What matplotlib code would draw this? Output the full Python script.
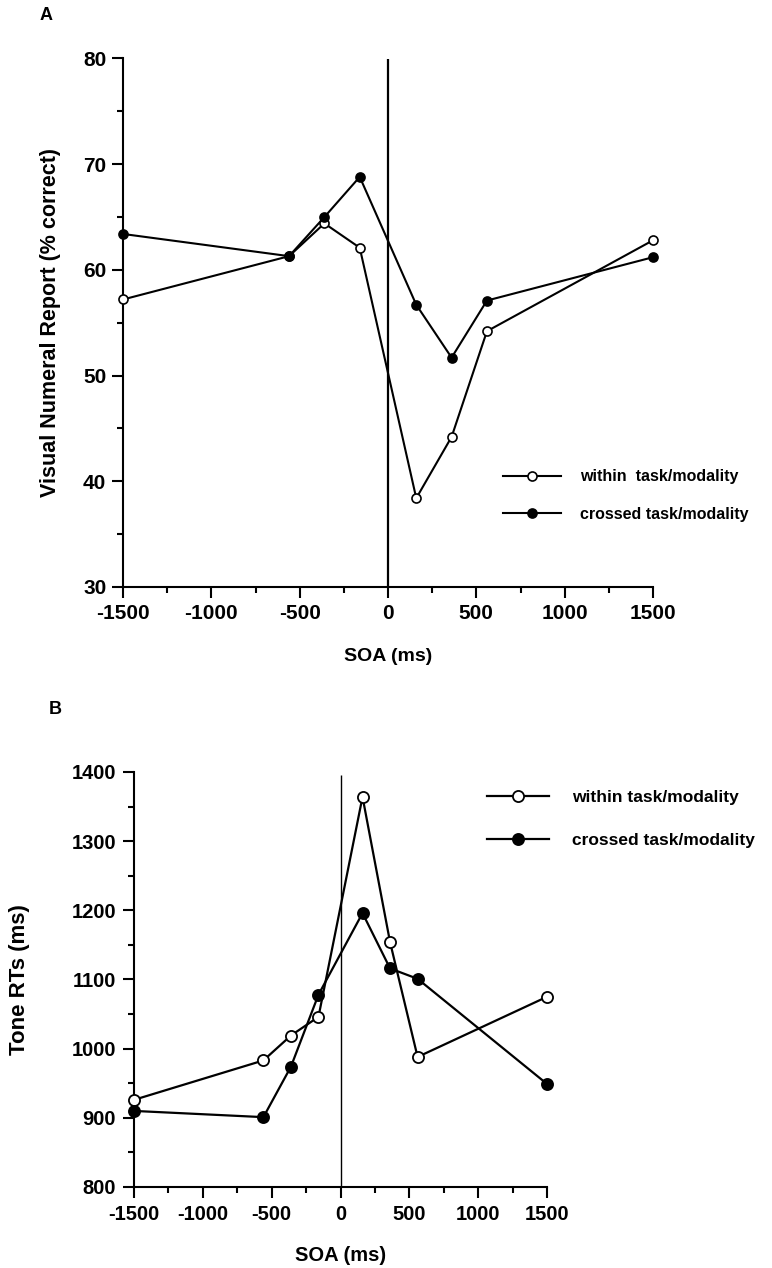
import matplotlib
matplotlib.use("Agg")
import matplotlib.pyplot as plt
from matplotlib.ticker import MultipleLocator

plt.rcParams["axes.unicode_minus"] = False

# SOA values (ms)
soa = [-1500, -560, -360, -160, 160, 360, 560, 1500]

# Panel A: visual numeral report (% correct)
report_within = [57.2, 61.3, 64.4, 62.1, 38.4, 44.2, 54.2, 62.8]
report_crossed = [63.4, 61.3, 65.0, 68.8, 56.7, 51.7, 57.1, 61.2]

# Panel B: tone RTs (ms)
rt_within = [926, 983, 1019, 1046, 1364, 1154, 988, 1075]
rt_crossed = [910, 901, 974, 1078, 1196, 1116, 1101, 949]

legend_a = ["within  task/modality", "crossed task/modality"]
legend_b = ["within task/modality", "crossed task/modality"]

W, H = 772, 1268
SANS = ["Liberation Sans", "DejaVu Sans"]

fig = plt.figure(figsize=(W / 100, H / 100), dpi=100)


def px_axes(left, top, right, bottom):
    return fig.add_axes([left / W, 1 - bottom / H, (right - left) / W, (bottom - top) / H])


def style_axis(ax, lw, size, pad):
    for s in ["top", "right"]:
        ax.spines[s].set_visible(False)
    for s in ["left", "bottom"]:
        ax.spines[s].set_linewidth(lw)
    ax.tick_params(which="major", length=8, width=lw, direction="out", pad=pad)
    ax.tick_params(which="minor", length=4, width=lw, direction="out")
    for lab in ax.get_xticklabels() + ax.get_yticklabels():
        lab.set_family(SANS)
        lab.set_fontweight("bold")
        lab.set_fontsize(size)


# ---- Panel A ----
ax1 = px_axes(123, 58.5, 653, 587)
ax1.set_xlim(-1500, 1500)
ax1.set_ylim(30, 80)
ax1.axvline(0, color="black", lw=1.6)
la1, = ax1.plot(soa, report_within, "-o", color="black", lw=1.5, ms=6.5,
                mfc="white", mec="black", mew=1.2, zorder=3, clip_on=False)
la2, = ax1.plot(soa, report_crossed, "-o", color="black", lw=1.5, ms=6.5,
                mfc="black", mec="black", mew=1.2, zorder=3, clip_on=False)
ax1.xaxis.set_major_locator(MultipleLocator(500))
ax1.xaxis.set_minor_locator(MultipleLocator(250))
ax1.yaxis.set_major_locator(MultipleLocator(10))
ax1.yaxis.set_minor_locator(MultipleLocator(5))
style_axis(ax1, 1.5, 15, 4)
ax1.set_xlabel("SOA (ms)", family=SANS, fontweight="bold", fontsize=14, labelpad=18)
ax1.set_ylabel("Visual Numeral Report (% correct)", family=SANS, fontweight="bold",
               fontsize=15.5, labelpad=16)
ax1.legend([la1, la2], legend_a, loc="upper left",
           bbox_to_anchor=((489 - 123) / 530, 1 - (455 - 58.5) / 528.5),
           frameon=False, handlelength=3.6, handletextpad=1.2, labelspacing=1.4,
           prop={"family": SANS, "weight": "bold", "size": 11.5})
fig.text(40 / W, 1 - 15 / H, "A", family=SANS, fontweight="bold", fontsize=13, va="center")

# ---- Panel B ----
ax2 = px_axes(134, 772, 547, 1187)
ax2.set_xlim(-1500, 1500)
ax2.set_ylim(800, 1400)
ax2.vlines(0, 800, 1395, color="black", lw=1.0)
lb1, = ax2.plot(soa, rt_within, "-o", color="black", lw=1.6, ms=8,
                mfc="white", mec="black", mew=1.3, zorder=3, clip_on=False)
lb2, = ax2.plot(soa, rt_crossed, "-o", color="black", lw=1.6, ms=8,
                mfc="black", mec="black", mew=1.3, zorder=3, clip_on=False)
ax2.xaxis.set_major_locator(MultipleLocator(500))
ax2.xaxis.set_minor_locator(MultipleLocator(250))
ax2.yaxis.set_major_locator(MultipleLocator(100))
ax2.yaxis.set_minor_locator(MultipleLocator(50))
style_axis(ax2, 1.5, 14.5, 5)
ax2.set_xlabel("SOA (ms)", family=SANS, fontweight="bold", fontsize=14.5, labelpad=16)
ax2.set_ylabel("Tone RTs (ms)", family=SANS, fontweight="bold", fontsize=16, labelpad=30)
ax2.legend([lb1, lb2], legend_b, loc="upper left",
           bbox_to_anchor=((471 - 134) / 413, 1 - (774 - 772) / 415),
           frameon=False, handlelength=3.6, handletextpad=1.3, labelspacing=1.6,
           prop={"family": SANS, "weight": "bold", "size": 12.5})
fig.text(49 / W, 1 - 710 / H, "B", family=SANS, fontweight="bold", fontsize=13, va="center")

fig.savefig("out.png", dpi=100)
